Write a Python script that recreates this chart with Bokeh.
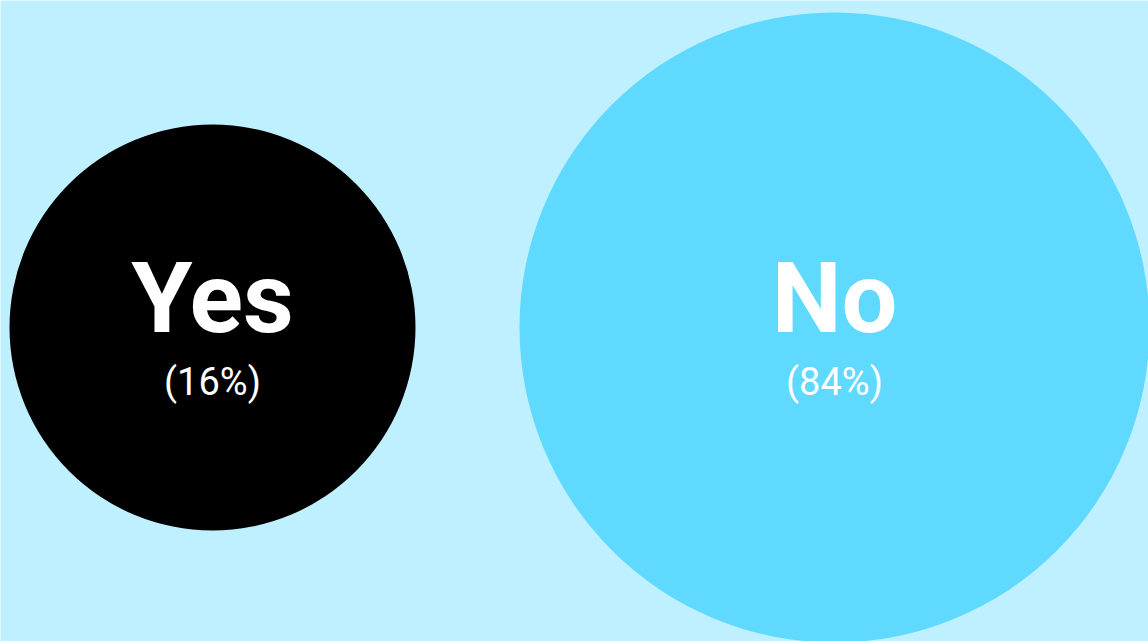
from bokeh.plotting import figure
from bokeh.models import ColumnDataSource, Range1d
from bokeh.core.properties import value
from bokeh.embed import file_html
from bokeh.resources import INLINE

# Data
categories = ["Yes", "No"]
percents = [16, 84]
labels = ["(16%)", "(84%)"]

# Layout / style (pixels)
W, H = 1148, 641
centers_x = [212, 834]
center_y = 327
radii = [203, 315]
fill_colors = ["#000000", "#60D9FF"]

src = ColumnDataSource(dict(
    cat=categories,
    pct_label=labels,
    x=centers_x,
    y=[center_y] * len(categories),
    r=radii,
    color=fill_colors,
    y_name=[center_y - 30] * len(categories),
    y_pct=[center_y + 54] * len(categories),
))

p = figure(width=W, height=H, x_range=Range1d(0, W), y_range=Range1d(H, 0),
           output_backend="svg", toolbar_location=None, min_border=0)
p.axis.visible = False
p.grid.visible = False
p.outline_line_color = None
p.background_fill_color = "#BFF0FF"
p.border_fill_color = "#BFF0FF"

p.circle(x="x", y="y", radius="r", radius_dimension="x", fill_color="color",
         line_color=None, source=src)

p.text(x="x", y="y_name", text="cat", source=src, text_color="white",
       text_font=value("Roboto"), text_font_style="bold", text_font_size="99px",
       text_align="center", text_baseline="alphabetic")
p.text(x="x", y="y_pct", text="pct_label", source=src, text_color="white",
       text_font=value("Roboto"), text_font_size="38px",
       text_align="center", text_baseline="alphabetic")

open("out.html", "w").write(file_html(p, INLINE))
